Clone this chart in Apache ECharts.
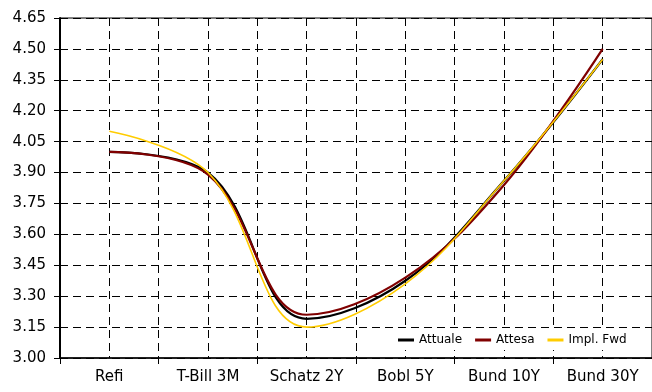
<!DOCTYPE html>
<html><head><meta charset="utf-8">
<script src="https://cdn.jsdelivr.net/npm/echarts@6/dist/echarts.min.js"></script>
<style>html,body{margin:0;padding:0;background:#fff}#c{width:652px;height:392px}</style>
</head><body><div id="c"></div>
<script>
var categories = ['Refi', 'T-Bill 3M', 'Schatz 2Y', 'Bobl 5Y', 'Bund 10Y', 'Bund 30Y'];
var attuale = [4.00, 3.90, 3.19, 3.375, 3.86, 4.45];
var attesa  = [4.00, 3.89, 3.21, 3.39, 3.84, 4.50];
var implFwd = [4.10, 3.90, 3.15, 3.36, 3.86, 4.45];
var seriesNames = ['Attuale', 'Attesa', 'Impl. Fwd'];
var yTicks = { min: 3.00, max: 4.65, step: 0.15 };

var FONT = 'DejaVu Sans';
var SMOOTH = 0.38;
var chart = echarts.init(document.getElementById('c'), null, { renderer: 'canvas' });
var dash = { type: [8, 5], color: '#000', width: 1 };
chart.setOption({
  animation: false,
  backgroundColor: '#fff',
  grid: { left: 60, right: -2, top: 18, bottom: 34, show: true, borderColor: '#000', borderWidth: 1, backgroundColor: 'transparent' },
  legend: {
    data: seriesNames,
    left: 392, top: 330,
    padding: [4, 6],
    backgroundColor: '#fff',
    icon: 'rect', itemWidth: 16, itemHeight: 3, itemGap: 13,
    textStyle: { fontFamily: FONT, fontSize: 12, color: '#000' }
  },
  xAxis: [
    {
      type: 'category', data: categories, boundaryGap: true,
      axisLine: { lineStyle: { color: '#000', width: 1.5 } },
      axisTick: { show: true, length: 6, lineStyle: { color: '#000' } },
      axisLabel: { fontFamily: FONT, fontSize: 15, color: '#000', margin: 12 },
      splitLine: { show: false }
    },
    {
      type: 'value', min: 0, max: 12, interval: 1, position: 'top',
      axisLine: { show: false }, axisTick: { show: false }, axisLabel: { show: false },
      splitLine: { show: true, lineStyle: dash }
    }
  ],
  yAxis: {
    type: 'value', min: yTicks.min, max: yTicks.max, interval: yTicks.step,
    axisLine: { show: true, lineStyle: { color: '#000', width: 2 } },
    axisTick: { show: true, length: 6, lineStyle: { color: '#000' } },
    axisLabel: { fontFamily: FONT, fontSize: 15, color: '#000', margin: 14, formatter: function (v) { return v.toFixed(2); } },
    splitLine: { show: true, lineStyle: { type: [8, 5], color: '#000', width: 1 } }
  },
  series: [
    { name: seriesNames[0], type: 'line', data: attuale, smooth: SMOOTH, symbol: 'none', color: '#000000', lineStyle: { width: 2.2, color: '#000000' } },
    { name: seriesNames[1], type: 'line', data: attesa, smooth: SMOOTH, symbol: 'none', color: '#800000', lineStyle: { width: 2.2, color: '#800000' } },
    { name: seriesNames[2], type: 'line', data: implFwd, smooth: SMOOTH, symbol: 'none', color: '#FFCC00', lineStyle: { width: 1.6, color: '#FFCC00' } }
  ]
});
</script></body></html>
